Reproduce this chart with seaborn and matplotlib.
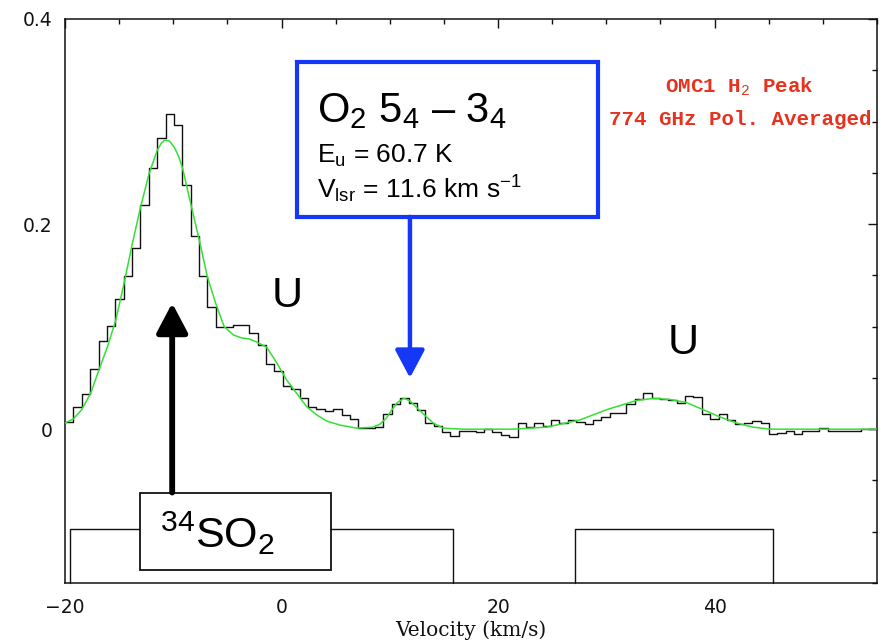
import numpy as np
import matplotlib
matplotlib.use("Agg")
import matplotlib.pyplot as plt
import seaborn as sns
from matplotlib.patches import Rectangle, FancyArrowPatch
from matplotlib.ticker import MultipleLocator

# ---------------- data ----------------
chan_start = -20.0          # km/s, left edge of first channel
chan_width = 0.774          # km/s
spec_tmb = [
    0.007, 0.022, 0.034, 0.059, 0.086, 0.101, 0.127, 0.149, 0.177, 0.219,
    0.255, 0.284, 0.307, 0.297, 0.238, 0.188, 0.149, 0.119, 0.100, 0.100,
    0.102, 0.102, 0.094, 0.082, 0.064, 0.057, 0.042, 0.039, 0.030, 0.022,
    0.020, 0.018, 0.020, 0.014, 0.010, 0.001, 0.001, 0.002, 0.015, 0.025,
    0.030, 0.026, 0.019, 0.006, 0.003, -0.003, -0.007, -0.002, -0.002, -0.003,
    0.000, -0.003, -0.006, -0.008, 0.006, 0.002, 0.006, 0.003, 0.009, 0.006,
    0.009, 0.007, 0.005, 0.009, 0.012, 0.016, 0.016, 0.025, 0.029, 0.035,
    0.030, 0.029, 0.028, 0.026, 0.032, 0.031, 0.015, 0.010, 0.015, 0.009,
    0.005, 0.006, 0.008, 0.006, -0.005, -0.004, -0.002, -0.005, -0.002, -0.002,
    0.001, -0.002, -0.002, -0.002, -0.002, 0.000, 0.000,
]
fit_v = [-20.0, -19.23, -18.46, -17.63, -16.86, -16.09, -15.32, -14.55, -13.78, -13.01,
         -12.24, -11.48, -11.1, -10.77, -10.35, -9.91, -9.5, -9.13, -8.39, -7.63,
         -6.86, -6.09, -5.3, -4.46, -3.69, -3.0, -2.3, -1.38, -0.46, 0.47,
         1.39, 2.32, 3.24, 4.16, 5.39, 6.93, 8.47, 9.1, 9.7, 10.2,
         10.7, 11.3, 11.8, 12.3, 13.08, 14.01, 14.93, 16.78, 21.39, 24.48,
         27.55, 30.02, 31.86, 32.79, 34.33, 35.86, 37.40, 38.94, 40.48, 42.02,
         43.56, 45.10, 48.1, 55.0]
fit_t = [0.006, 0.010, 0.019, 0.035, 0.058, 0.080, 0.106, 0.142, 0.181, 0.217,
         0.249, 0.272, 0.279, 0.282, 0.281, 0.275, 0.266, 0.254, 0.220, 0.186,
         0.149, 0.123, 0.100, 0.092, 0.089, 0.088, 0.085, 0.080, 0.065, 0.048,
         0.035, 0.022, 0.014, 0.008, 0.004, 0.001, 0.002, 0.005, 0.011, 0.019,
         0.026, 0.030, 0.028, 0.023, 0.015, 0.006, 0.001, 0.000, 0.000, 0.002,
         0.009, 0.019, 0.025, 0.028, 0.030, 0.029, 0.026, 0.019, 0.012, 0.006,
         0.002, 0.000, 0.000, 0.000]
win_lo = [-19.5, 27.1]
win_hi = [15.8, 45.35]
win_level = -0.097
x_ticks = [-20, 0, 20, 40]
x_ticklabels = ["\u221220", "0", "20", "40"]
y_ticks = [0, 0.2, 0.4]
y_ticklabels = ["0", "0.2", "0.4"]

# ---------------- style ----------------
sns.set_style("white")
plt.rcParams["font.family"] = ["DejaVu Sans"]
plt.rcParams["text.color"] = "black"
plt.rcParams["mathtext.fontset"] = "custom"
plt.rcParams["mathtext.rm"] = "Liberation Sans"
plt.rcParams["mathtext.it"] = "Liberation Sans:italic"
plt.rcParams["mathtext.bf"] = "Liberation Sans:bold"
plt.rcParams["mathtext.tt"] = "Liberation Mono"

fig = plt.figure(figsize=(8.92, 6.41), dpi=100)
ax = fig.add_axes([65 / 892, 1 - 583 / 641, (877 - 65) / 892, (583 - 19) / 641])

edges = chan_start + chan_width * np.arange(len(spec_tmb) + 1)
vals = list(spec_tmb) + [spec_tmb[-1]]
sns.lineplot(x=edges, y=vals, ax=ax, drawstyle="steps-post", estimator=None,
             sort=False, color="#111111", lw=1.0, zorder=3)
sns.lineplot(x=fit_v, y=fit_t, ax=ax, estimator=None, sort=False,
             color="#33e033", lw=1.1, zorder=4)

# baseline windows
for lo, hi in zip(win_lo, win_hi):
    ax.plot([lo, lo, hi, hi], [-0.15, win_level, win_level, -0.15],
            color="#111111", lw=1.0, zorder=2, clip_on=False)

ax.set_xlim(-20, 55)
ax.set_ylim(-0.15, 0.4)
ax.set_xticks(x_ticks)
ax.set_xticklabels(x_ticklabels)
ax.set_yticks(y_ticks)
ax.set_yticklabels(y_ticklabels)
ax.xaxis.set_minor_locator(MultipleLocator(5))
ax.yaxis.set_minor_locator(MultipleLocator(0.05))
ax.tick_params(which="both", direction="in", top=True, right=True,
               width=1.0, color="#111111")
ax.tick_params(which="major", length=6.5)
ax.tick_params(which="minor", length=3.6)
ax.tick_params(axis="x", pad=11, labelsize=13.5, labelcolor="#111111")
ax.tick_params(axis="y", pad=9, labelsize=13.5, labelcolor="#111111")
for s in ax.spines.values():
    s.set_linewidth(1.1)
    s.set_color("#111111")
    s.set_visible(True)

ax.set_xlabel("Velocity (km/s)", family="DejaVu Serif", fontsize=14.5, color="#111111")
ax.xaxis.label.set_va("baseline")
ax.xaxis.set_label_coords(0.5, (583 - 636) / 564)
ax.set_ylabel("")

# ---------------- annotations ----------------
blue = "#1538f8"
ax.add_patch(Rectangle((1.39, 0.2071), 29.21 - 1.39, 0.3583 - 0.2071,
                       fill=True, facecolor="white", edgecolor=blue, lw=3.0, zorder=6))
ax.text(3.3, 0.2995, "O$_2$ 5$_4$ \u2013 3$_4$", family="Liberation Sans",
        fontsize=30, va="baseline", ha="left", zorder=7, color="black")
ax.text(3.27, 0.2595, "E$_\\mathrm{u}$ = 60.7 K", family="Liberation Sans",
        fontsize=19, va="baseline", ha="left", zorder=7, color="black")
ax.text(3.27, 0.2254, "V$_\\mathrm{lsr}$ = 11.6 km s$^\\mathrm{-1}$", family="Liberation Sans",
        fontsize=19, va="baseline", ha="left", zorder=7, color="black")
ax.add_patch(FancyArrowPatch((11.86, 0.2071), (11.86, 0.050),
                             arrowstyle="-|>,head_length=17,head_width=9",
                             mutation_scale=1, color=blue, lw=3.2,
                             shrinkA=0, shrinkB=0, zorder=6))

red = "#e63320"
ax.text(42.33, 0.328, "OMC1 H$_\\mathtt{2}$ Peak", family="Liberation Mono",
        fontsize=15, color=red, ha="center", va="baseline", zorder=7,
        fontweight="bold")
ax.text(42.33, 0.2966, "774 GHz Pol. Averaged", family="Liberation Mono",
        fontsize=15, color=red, ha="center", va="baseline", zorder=7,
        fontweight="bold")

ax.text(0.5, 0.130, "U", family="Liberation Sans", fontsize=31,
        ha="center", va="center", zorder=7, color="black")
ax.text(37.06, 0.084, "U", family="Liberation Sans", fontsize=31,
        ha="center", va="center", zorder=7, color="black")

# 34SO2 box and arrow
ax.add_patch(Rectangle((-13.07, -0.137), 4.53 + 13.07, 0.137 - 0.0618,
                       facecolor="white", edgecolor="#111111", lw=1.3, zorder=6))
ax.text(-11.23, -0.116, "$^{34}$SO$_2$", family="Liberation Sans", fontsize=31,
        ha="left", va="baseline", zorder=7, color="black")
ax.add_patch(FancyArrowPatch((-10.1, -0.0618), (-10.1, 0.123),
                             arrowstyle="-|>,head_length=18,head_width=9.5",
                             mutation_scale=1, color="black", lw=4.2,
                             shrinkA=0, shrinkB=0, zorder=6))

fig.savefig("out.png", dpi=100)
